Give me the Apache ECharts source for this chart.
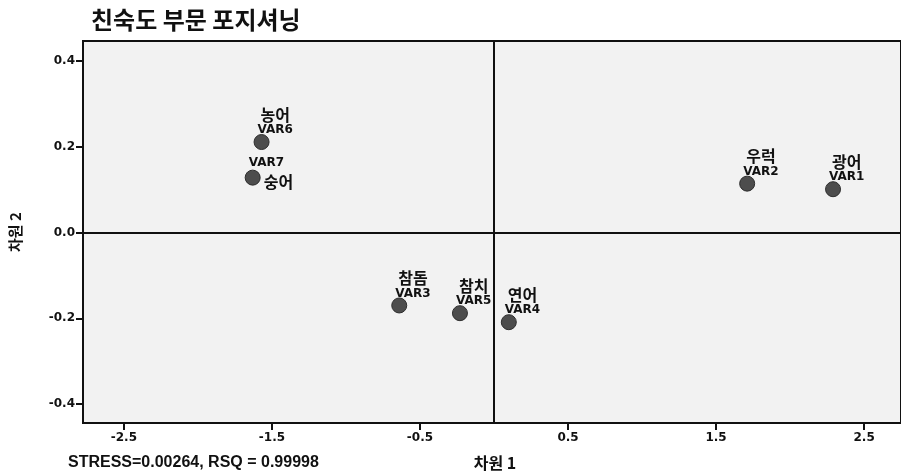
<!DOCTYPE html>
<html>
<head>
<meta charset="utf-8">
<script src="https://cdn.jsdelivr.net/npm/echarts@6/dist/echarts.min.js"></script>
<style>
  html, body { margin: 0; padding: 0; background: #fff; }
  #main { width: 901px; height: 476px; }
</style>
</head>
<body>
<div id="main"></div>
<script>
// MDS 좌표 (차원 1, 차원 2)
const names = ['광어', '우럭', '참돔', '연어', '참치', '농어', '숭어'];
const varLabels = ['VAR1', 'VAR2', 'VAR3', 'VAR4', 'VAR5', 'VAR6', 'VAR7'];
const dim1 = [2.29, 1.71, -0.64, 0.10, -0.23, -1.57, -1.63];
const dim2 = [0.101, 0.114, -0.170, -0.209, -0.188, 0.211, 0.128];
const xTicks = [-2.5, -1.5, -0.5, 0.5, 1.5, 2.5];
const yTicks = [-0.4, -0.2, 0.0, 0.2, 0.4];

const KR = '"Noto Sans CJK KR", sans-serif';
const NUM = '"DejaVu Sans", Verdana, sans-serif';

const richV = { fontFamily: NUM, fontWeight: 'bold', fontSize: 12, lineHeight: 12, color: '#111' };
const richK = { fontFamily: KR, fontWeight: 'bold', fontSize: 16, lineHeight: 19, color: '#111', padding: [0, 0, 0, 3] };

const chart = echarts.init(document.getElementById('main'));

const points = names.map(function (n, i) {
  const item = { value: [dim1[i], dim2[i]] };
  if (varLabels[i] === 'VAR7') {
    // VAR7 위, 숭어는 점 오른쪽
    item.label = {
      formatter: '{v|' + varLabels[i] + '}\n{k|' + n + '}',
      position: [4, -13],
      verticalAlign: 'top',
      rich: {
        v: richV,
        k: Object.assign({}, richK, { lineHeight: 26, padding: [0, 0, 0, 15] })
      }
    };
  }
  return item;
});

const option = {
  backgroundColor: '#ffffff',
  animation: false,
  title: {
    text: '친숙도 부문 포지셔닝',
    left: 86,
    top: 3,
    textStyle: { fontFamily: KR, fontWeight: 'bold', fontSize: 24, color: '#111' }
  },
  graphic: [{
    type: 'text',
    left: 68,
    top: 455,
    style: {
      text: 'STRESS=0.00264, RSQ = 0.99998',
      font: 'bold 16px "Liberation Sans Narrow", "Liberation Sans", sans-serif',
      fill: '#111'
    }
  }],
  grid: {
    left: 82, top: 41, bottom: 52, right: -2,
    show: true,
    backgroundColor: '#f2f2f2',
    borderColor: '#111',
    borderWidth: 2
  },
  xAxis: {
    type: 'value',
    min: -2.776, max: 2.749,
    name: '차원 1',
    nameLocation: 'middle',
    nameGap: 32,
    nameTextStyle: { fontFamily: KR, fontWeight: 'bold', fontSize: 16, color: '#111', padding: [0, 0, 0, 6] },
    axisLine: { show: true, onZero: false, lineStyle: { color: '#111', width: 2 } },
    axisTick: { show: true, customValues: xTicks, length: 7, lineStyle: { color: '#111', width: 2 } },
    axisLabel: {
      customValues: xTicks,
      formatter: function (v) { return v.toFixed(1); },
      fontFamily: NUM, fontWeight: 'bold', fontSize: 12, color: '#111', margin: 9
    },
    splitLine: { show: false }
  },
  yAxis: {
    type: 'value',
    min: -0.444, max: 0.4465,
    name: '차원 2',
    nameLocation: 'middle',
    nameGap: 60,
    nameTextStyle: { fontFamily: KR, fontWeight: 'bold', fontSize: 15, color: '#111' },
    axisLine: { show: true, onZero: false, lineStyle: { color: '#111', width: 2 } },
    axisTick: { show: true, customValues: yTicks, length: 7, lineStyle: { color: '#111', width: 2 } },
    axisLabel: {
      customValues: yTicks,
      formatter: function (v) { return v.toFixed(1); },
      fontFamily: NUM, fontWeight: 'bold', fontSize: 12, color: '#111', margin: 8
    },
    splitLine: { show: false }
  },
  series: [{
    type: 'scatter',
    symbol: 'circle',
    symbolSize: 15,
    itemStyle: { color: '#4d4d4d', borderColor: '#2e2e2e', borderWidth: 1, opacity: 1 },
    label: {
      show: true,
      position: [4, 2],
      align: 'left',
      verticalAlign: 'bottom',
      formatter: function (p) {
        return '{k|' + names[p.dataIndex] + '}\n{v|' + varLabels[p.dataIndex] + '}';
      },
      rich: { k: richK, v: richV }
    },
    markLine: {
      silent: true,
      symbol: 'none',
      label: { show: false },
      lineStyle: { color: '#111', width: 2, type: 'solid' },
      data: [{ xAxis: 0 }, { yAxis: 0 }]
    },
    data: points
  }]
};

chart.setOption(option);
</script>
</body>
</html>
